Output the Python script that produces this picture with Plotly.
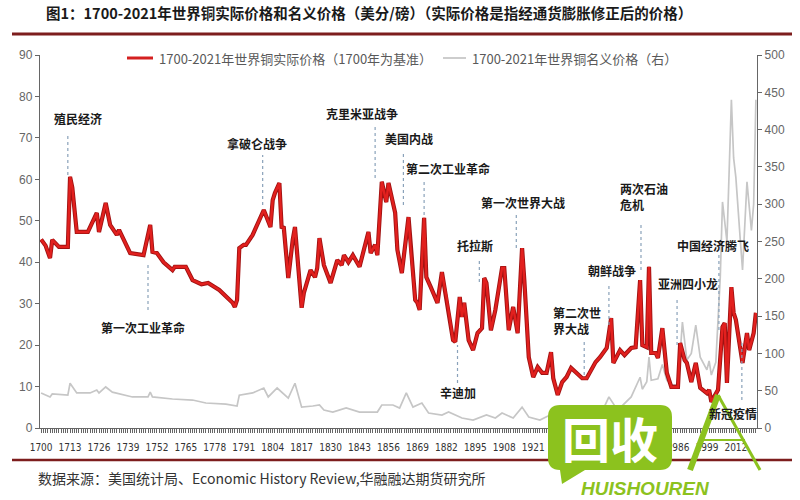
import plotly.graph_objects as go

# ---------------- data ----------------
red_years = [1700,1702,1704,1705,1708,1712,1713,1714,1716,1721,1725,1726,1729,1731,1734,1735,1740,1746,1749,1750,
             1752,1755,1759,1760,1765,1768,1772,1775,1780,1786,1787,1788,1789,1791,1792,1795,1800,1803,1804,1805,
             1807,1808,1809,1811,1813,1814,1817,1818,1821,1823,1824,1825,1827,1830,1833,1835,1836,1838,1840,1843,
             1847,1848,1850,1851,1853,1855,1856,1859,1860,1862,1865,1866,1868,1869,1870,1872,1873,1875,1878,1880,
             1882,1885,1886,1888,1889,1890,1892,1894,1896,1898,1899,1900,1902,1904,1907,1908,1910,1912,1914,1916,
             1917,1919,1921,1923,1925,1927,1929,1930,1932,1934,1936,1938,1940,1943,1945,1947,1949,1951,1954,1956,
             1957,1960,1962,1965,1967,1969,1970,1972,1973,1974,1976,1977,1979,1981,1983,1986,1987,1989,1990,1992,
             1994,1996,1999,2000,2001,2004,2006,2007,2008,2010,2011,2012,2015,2017,2018,2020,2021]
red_values = [45.5,44,41,45.4,43.7,43.7,60.6,58,47.3,47.3,51.9,47.3,54.3,49,46.6,47.8,42.2,41.7,49,42.5,
              42.2,40,38.1,38.9,38.9,35.7,34.7,35,33.3,30.2,29.2,30.9,43.4,44.2,44.2,46.6,52.6,48.5,55,56.7,
              59.1,48.5,48.3,36.2,45.4,48.5,29,32.6,38.1,36.4,38.6,45.8,39.3,35,40.5,39.3,41.7,40,41.7,38.9,
              47.3,42.2,44.2,41.7,59.4,54.5,59.1,51.9,43,37.4,50.9,43,30.9,30.2,28.5,50.7,36.4,34,30.2,37.6,
              31.6,21.2,20.8,31.6,26.8,30.2,21.2,18.8,22.9,24.1,36.2,35,23.6,28.5,38.6,38.6,23.6,29.2,22.9,43.4,
              35.7,17.1,12.3,14.7,13.3,13.3,18.3,12,8,11.1,12.3,14.5,13.5,12,12,14,15.9,17.1,19.3,26.5,
              15.7,18.8,17.6,19.3,19.5,35.7,20,19.5,38.9,18.1,18.1,16.9,24.1,13.3,9.9,9.9,20.5,16.4,15.7,11.1,
              15.7,9.7,8.4,9.2,6.3,9.2,24.4,25.3,10.9,34,27.8,26.1,15.7,22.9,18.8,22.9,27.8]

gray_years = [1700,1704,1705,1712,1713,1716,1722,1725,1726,1729,1732,1741,1748,1749,1750,1759,1768,1774,1783,1788,
              1789,1795,1800,1802,1806,1811,1814,1817,1822,1825,1827,1831,1837,1843,1851,1853,1858,1861,1864,1867,
              1871,1874,1880,1883,1889,1894,1900,1904,1907,1912,1916,1919,1924,1929,1932,1937,1940,1945,1947,1951,
              1953,1955,1958,1961,1965,1969,1970,1972,1973,1974,1977,1979,1981,1983,1986,1988,1990,1992,1994,1996,
              1999,2000,2001,2003,2005,2006,2008,2010,2011,2012,2014,2015,2017,2019,2020,2021]
gray_values = [47,41.6,45.6,44,60,47,47,51,47,55,48,41.6,41.6,48,41.6,38.9,37.5,33.5,32,29.5,
               44,47,53.6,41.6,53.6,40,60,28,29.5,30.8,24,21.4,26.8,21.4,21.4,30.8,30.8,26.8,47,28,
               33.5,20,17.4,21.4,13.4,10.7,17.4,13.4,20,13.4,28,14.7,10.7,18,7,13,11,12,21,24,
               29,41.6,28,30,41.6,68,52,62,95,64,66,85,64,58,58,142,91,100,138,95,
               78,90,71,88,202,303,250,440,362,336,252,212,330,265,300,440]

xtick_labels = ["1700","1713","1726","1739","1752","1765","1778","1791","1804","1817","1830","1843","1856",
                "1869","1882","1895","1908","1921","1934","1947","1960","1973","1986","1999","2012"]
xtick_years = [int(t) for t in xtick_labels]

left_ticks = [0,10,20,30,40,50,60,70,80,90]
right_ticks = [0,50,100,150,200,250,300,350,400,450,500]

title_text = "图1：1700-2021年世界铜实际价格和名义价格（美分/磅）（实际价格是指经通货膨胀修正后的价格）"
red_name = "1700-2021年世界铜实际价格（1700年为基准）"
gray_name = "1700-2021年世界铜名义价格（右）"
source_text = "数据来源：美国统计局、Economic History Review,华融融达期货研究所"

event_names = ["殖民经济","第一次工业革命","拿破仑战争","克里米亚战争","美国内战","第二次工业革命",
               "托拉斯","辛迪加","第一次世界大战","第二次世<br>界大战","朝鲜战争","两次石油<br>危机",
               "亚洲四小龙","中国经济腾飞","新冠疫情"]
event_years = [1712,1748,1799.5,1850,1862.7,1872,1896.8,1887,1913.4,1943.9,1955,1969.4,1985.6,2004.4,2014.7]

# ---------------- layout helpers (pixel placement) ----------------
L, R, T, B = 40, 757, 55, 428
def px(x):
    return (x - L) / (R - L)
def py(y):
    return (B - y) / (B - T)
def val(y):
    return (B - y) / (B - T) * 90

# per event: text centre x(px), text y(px), align, dash y0(px), dash y1(px)
event_pos = [
    (78, 118, "center", 133, 175),
    (143, 327, "center", 265, 310),
    (257, 143, "center", 155, 205),
    (362, 113, "center", 125, 178),
    (409, 138, "center", 152, 205),
    (448, 168, "center", 180, 215),
    (475, 245, "center", 258, 282),
    (458, 392, "center", 345, 383),
    (523, 202, "center", 215, 248),
    (551, 320, "left", 342, 375),
    (612, 270, "center", 283, 325),
    (618, 196, "left", 225, 270),
    (688, 283, "center", 300, 345),
    (713, 245, "center", 255, 330),
    (733, 413, "center", 340, 400),
]

fig = go.Figure()
fig.add_trace(go.Scatter(x=gray_years, y=gray_values, yaxis="y2", mode="lines", name=gray_name,
                         line=dict(color="#c6c6c6", width=1.7), showlegend=False))
fig.add_trace(go.Scatter(x=red_years, y=red_values, yaxis="y", mode="lines", name=red_name,
                         line=dict(color="#a01212", width=4.2), showlegend=False, hoverinfo="skip"))
fig.add_trace(go.Scatter(x=red_years, y=red_values, yaxis="y", mode="lines", name=red_name,
                         line=dict(color="#e2201e", width=2.4), showlegend=False))

shapes = []
annotations = []
cjk = "Noto Sans CJK SC"

for name, yr, (tx, ty, al, d0, d1) in zip(event_names, event_years, event_pos):
    shapes.append(dict(type="line", xref="x", yref="y", x0=yr, x1=yr, y0=val(d1), y1=val(d0),
                       line=dict(color="#8aa2ba", width=1.2, dash="dot")))
    annotations.append(dict(xref="paper", yref="paper", x=px(tx), y=py(ty), text="<b>%s</b>" % name,
                            showarrow=False, xanchor=al, yanchor="middle", align=al,
                            font=dict(family=cjk, size=12, color="#1a1a1a")))

# legend (manual)
shapes.append(dict(type="line", xref="paper", yref="paper", x0=px(127), x1=px(153), y0=py(58), y1=py(58),
                   line=dict(color="#d42020", width=3)))
annotations.append(dict(xref="paper", yref="paper", x=px(157), y=py(58), text=red_name, showarrow=False,
                        xanchor="left", yanchor="middle", font=dict(family=cjk, size=13, color="#595959")))
shapes.append(dict(type="line", xref="paper", yref="paper", x0=px(443), x1=px(466), y0=py(58), y1=py(58),
                   line=dict(color="#c0c0c0", width=1.6)))
annotations.append(dict(xref="paper", yref="paper", x=px(470), y=py(58), text=gray_name, showarrow=False,
                        xanchor="left", yanchor="middle", font=dict(family=cjk, size=13, color="#595959")))

# header / footer rules
shapes.append(dict(type="line", xref="paper", yref="paper", x0=px(12), x1=px(792), y0=py(34), y1=py(34),
                   line=dict(color="#7d1d1d", width=3)))
shapes.append(dict(type="line", xref="paper", yref="paper", x0=px(12), x1=px(792), y0=py(460), y1=py(460),
                   line=dict(color="#7d1d1d", width=2.5)))
annotations.append(dict(xref="paper", yref="paper", x=px(36), y=py(478), text=source_text, showarrow=False,
                        xanchor="left", yanchor="middle", font=dict(family=cjk, size=14, color="#333333")))

# watermark (approximate)
g = "#8cc21e"
def P(x, y):
    return "%f,%f" % (px(x), py(y))
bubble = ("M " + P(560, 405) + " L " + P(660, 405) + " Q " + P(672, 405) + " " + P(672, 417) +
          " L " + P(672, 458) + " Q " + P(672, 470) + " " + P(660, 470) + " L " + P(585, 470) +
          " L " + P(562, 484) + " L " + P(560, 470) + " Q " + P(548, 470) + " " + P(548, 458) +
          " L " + P(548, 417) + " Q " + P(548, 405) + " " + P(560, 405) + " Z")
shapes.append(dict(type="path", xref="paper", yref="paper", path=bubble, fillcolor=g, line=dict(width=0)))
annotations.append(dict(xref="paper", yref="paper", x=px(610), y=py(437), text="<b>回收</b>", showarrow=False,
                        xanchor="center", yanchor="middle", font=dict(family=cjk, size=48, color="white")))
annotations.append(dict(xref="paper", yref="paper", x=px(645), y=py(488), text="<b><i>HUISHOUREN</i></b>",
                        showarrow=False, xanchor="center", yanchor="middle",
                        font=dict(family="Liberation Sans", size=19, color=g)))
shapes.append(dict(type="line", xref="paper", yref="paper", x0=px(718), y0=py(395), x1=px(690), y1=py(470),
                   line=dict(color=g, width=6)))
shapes.append(dict(type="line", xref="paper", yref="paper", x0=px(718), y0=py(395), x1=px(760), y1=py(470),
                   line=dict(color=g, width=3)))
shapes.append(dict(type="line", xref="paper", yref="paper", x0=px(700), y0=py(440), x1=px(745), y1=py(440),
                   line=dict(color=g, width=2)))

fig.update_layout(
    width=800, height=500, autosize=False,
    margin=dict(l=L, r=800 - R, t=T, b=500 - B, pad=0),
    paper_bgcolor="white", plot_bgcolor="white",
    title=dict(text="<b>" + title_text + "</b>", x=46 / 800, xanchor="left", y=1 - 14 / 500, yanchor="middle",
               font=dict(family=cjk, size=14.5, color="#1a1a1a")),
    xaxis=dict(range=[1699.5, 2021.5], showgrid=False, zeroline=False, showline=True, linecolor="#666666",
               linewidth=1.2, tickmode="array", tickvals=xtick_years, ticktext=xtick_labels, tickangle=0,
               ticks="outside", ticklen=4, tickcolor="#666666", ticklabelstandoff=6,
               minor=dict(ticks="outside", dtick=1, ticklen=4, tickcolor="#666666", showgrid=False),
               tickfont=dict(family="Liberation Sans Narrow, DejaVu Sans Condensed, Arial", size=10, color="#333333")),
    yaxis=dict(range=[0, 90], tickvals=left_ticks, showgrid=False, zeroline=False, showline=True,
               linecolor="#666666", linewidth=1.4, ticks="outside", ticklen=4, tickcolor="#666666",
               tickfont=dict(family="Liberation Sans", size=12, color="#666666"), side="left",
               overlaying="y2"),
    yaxis2=dict(range=[0, 500], tickvals=right_ticks, showgrid=False, zeroline=False, showline=True,
                linecolor="#666666", linewidth=1.4, ticks="outside", ticklen=4, tickcolor="#666666",
                tickfont=dict(family="Liberation Sans", size=12, color="#666666"), side="right", anchor="x"),
    shapes=shapes, annotations=annotations, showlegend=False,
)

fig.write_html("out.html", config={"displayModeBar": False},
               post_script="document.body.style.margin='0';document.body.style.padding='0';")
